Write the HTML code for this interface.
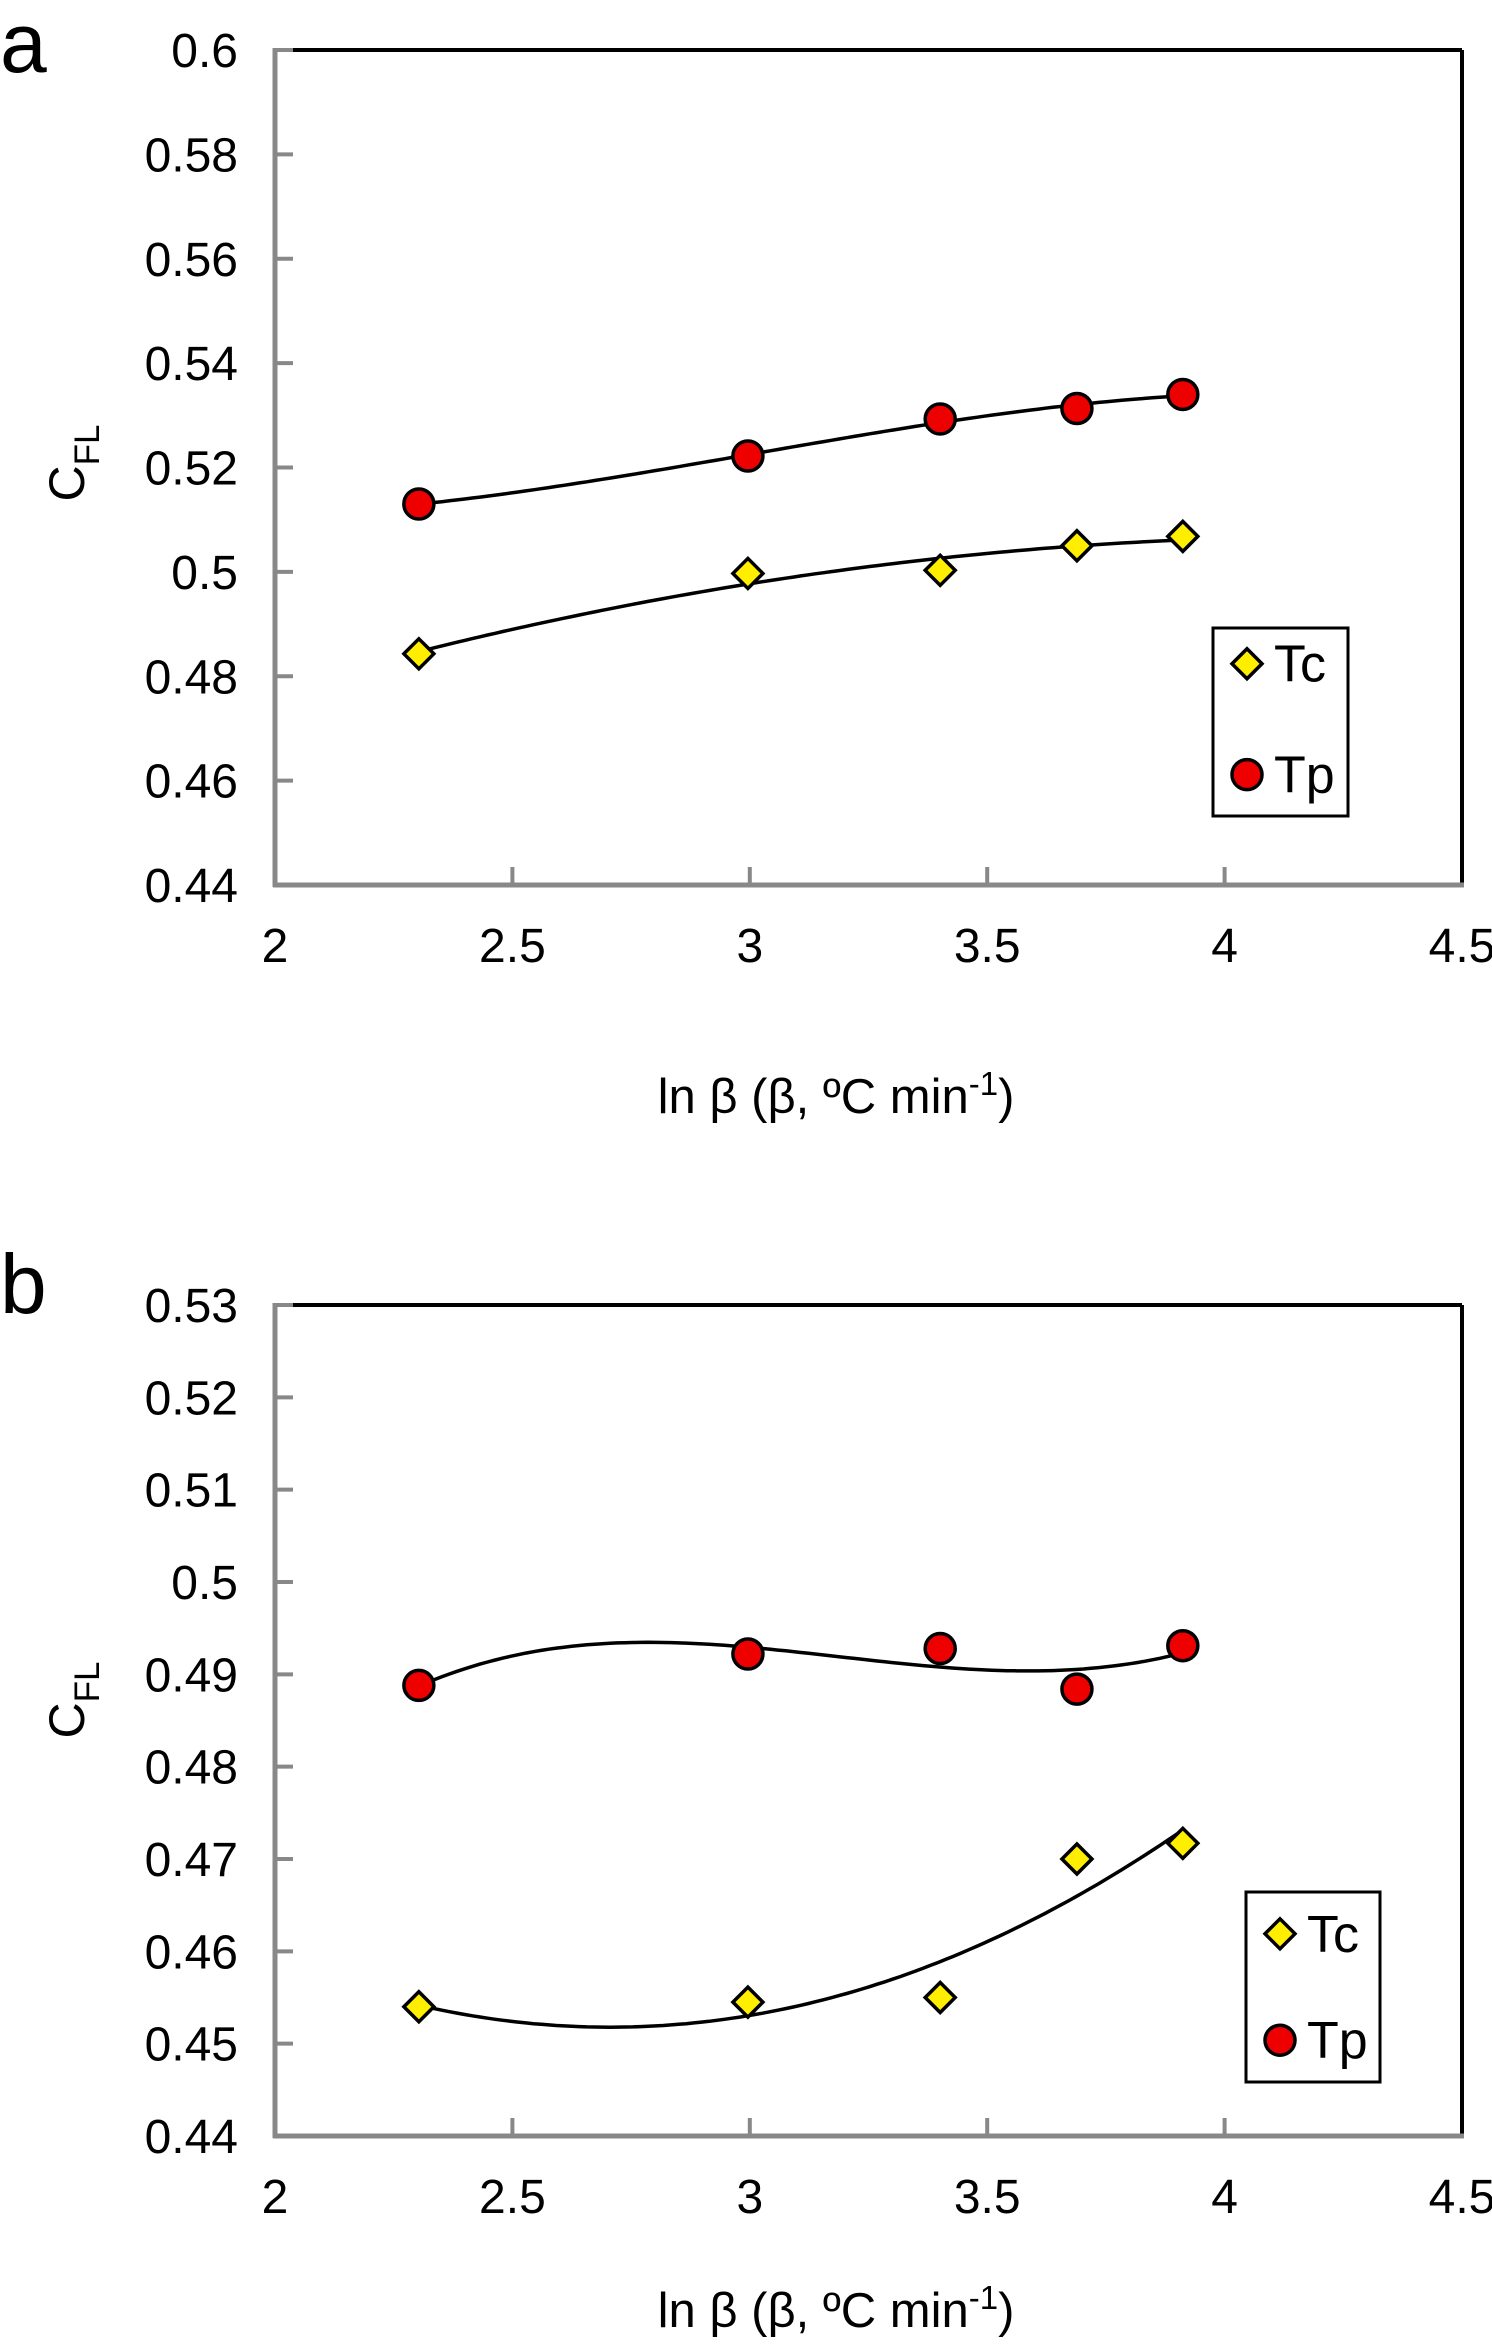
<!DOCTYPE html>
<html><head><meta charset="utf-8">
<style>
html,body{margin:0;padding:0;background:#fff;}
svg{display:block;font-family:"Liberation Sans",Arial,sans-serif;}
</style></head>
<body>
<svg id="fig" width="1492" height="2345" viewBox="0 0 1492 2345" xmlns="http://www.w3.org/2000/svg"></svg>
<script>
const xCats = [2.303, 2.996, 3.401, 3.689, 3.912];
const xTicks = [2, 2.5, 3, 3.5, 4, 4.5];
const xTickLabels = ["2","2.5","3","3.5","4","4.5"];
const aTc = [0.4843, 0.4997, 0.5003, 0.5050, 0.5068];
const aTp = [0.5130, 0.5222, 0.5293, 0.5313, 0.5340];
const aYTicks = [0.44,0.46,0.48,0.50,0.52,0.54,0.56,0.58,0.60];
const aYTickLabels = ["0.44","0.46","0.48","0.5","0.52","0.54","0.56","0.58","0.6"];
const bTc = [0.4540, 0.4545, 0.4550, 0.4700, 0.4717];
const bTp = [0.4888, 0.4922, 0.4928, 0.4884, 0.4931];
const bYTicks = [0.44,0.45,0.46,0.47,0.48,0.49,0.50,0.51,0.52,0.53];
const bYTickLabels = ["0.44","0.45","0.46","0.47","0.48","0.49","0.5","0.51","0.52","0.53"];

const NS="http://www.w3.org/2000/svg";
const svg=document.getElementById('fig');
function mk(tag,attrs,parent){const e=document.createElementNS(NS,tag);for(const k in attrs)e.setAttribute(k,attrs[k]);(parent||svg).appendChild(e);return e;}

function polyfit(xs,ys,deg){
  const n=deg+1;const A=[];for(let i=0;i<n;i++){A.push(new Array(n+1).fill(0));}
  for(let k=0;k<xs.length;k++){for(let i=0;i<n;i++){for(let j=0;j<n;j++)A[i][j]+=Math.pow(xs[k],i+j);A[i][n]+=ys[k]*Math.pow(xs[k],i);}}
  for(let i=0;i<n;i++){let p=i;for(let r=i+1;r<n;r++)if(Math.abs(A[r][i])>Math.abs(A[p][i]))p=r;[A[i],A[p]]=[A[p],A[i]];
    for(let r=0;r<n;r++){if(r===i)continue;const f=A[r][i]/A[i][i];for(let c=i;c<=n;c++)A[r][c]-=f*A[i][c];}}
  return A.map((row,i)=>row[n]/row[i]);
}
function peval(c,x){let s=0;for(let i=0;i<c.length;i++)s+=c[i]*Math.pow(x,i);return s;}

function drawChart(cfg){
  const g=mk('g',{});
  
  
  const L=275,R=1462,T=cfg.top,B=cfg.bottom;
  const xs=v=>L+(v-2)/(4.5-2)*(R-L);
  const ys=v=>B-(v-cfg.ymin)/(cfg.ymax-cfg.ymin)*(B-T);
  const pl=mk('text',{x:0,y:cfg.letterY,'font-size':84,fill:'#000'},g);pl.textContent=cfg.letter;
  
  
  const top=mk('line',{x1:L,y1:T,x2:R,y2:T,stroke:'#000','stroke-width':4},g);
  
  
  const rt=mk('line',{x1:R,y1:T,x2:R,y2:B,stroke:'#000','stroke-width':4},g);
  
  
  const ya=mk('line',{x1:L,y1:T-2,x2:L,y2:B+2,stroke:'#888','stroke-width':5},g);
  
  
  const xa=mk('line',{x1:L-2,y1:B,x2:R+2,y2:B,stroke:'#888','stroke-width':5},g);
  
  
  cfg.yTicks.forEach((v,i)=>{
    const y=ys(v);
    const t=mk('line',{x1:L,y1:y,x2:L+18,y2:y,stroke:'#888','stroke-width':4},g);
    
    
    const lb=mk('text',{x:238,y:y+17,'font-size':48,'text-anchor':'end',fill:'#000'},g);
    lb.textContent=cfg.yLabels[i];
    
    
  });
  xTicks.forEach((v,i)=>{
    const x=xs(v);
    if(i>0&&i<xTicks.length-1){
      const t=mk('line',{x1:x,y1:B,x2:x,y2:B-18,stroke:'#888','stroke-width':4},g);
      
      
    }
    const lb=mk('text',{x:x,y:B+77,'font-size':48,'text-anchor':'middle',fill:'#000'},g);
    lb.textContent=xTickLabels[i];
    
    
  });
  const xt=mk('text',{x:836,y:cfg.xTitleY,'font-size':49,'text-anchor':'middle',fill:'#000'},g);
  xt.innerHTML='ln β (β, ºC min<tspan dy="-18" font-size="33">-1</tspan><tspan dy="18">)</tspan>';
  
  
  const yt=mk('text',{x:0,y:0,'font-size':50,'text-anchor':'middle',fill:'#000',transform:`translate(84,${cfg.yTitleY}) rotate(-90)`},g);
  yt.innerHTML='C<tspan dy="15" font-size="35">FL</tspan>';
  
  
  [[cfg.tc,cfg.degTc,'fit-line-tc'],[cfg.tp,cfg.degTp,'fit-line-tp']].forEach(([ser,deg,nm])=>{
    const c=polyfit(xCats,ser,deg);let d='';
    const x0=xCats[0],x1=xCats[xCats.length-1];
    for(let k=0;k<=100;k++){const x=x0+(x1-x0)*k/100;d+=(k?'L':'M')+xs(x).toFixed(1)+','+ys(peval(c,x)).toFixed(1);}
    const p=mk('path',{d:d,fill:'none',stroke:'#000','stroke-width':3.5},g);
    
    
  });
  cfg.tc.forEach((v,i)=>{
    const x=xs(xCats[i]),y=ys(v);
    const m=mk('polygon',{points:`${x},${y-15} ${x+15},${y} ${x},${y+15} ${x-15},${y}`,fill:'#ffee00',stroke:'#000','stroke-width':3.5},g);
    
    
  });
  cfg.tp.forEach((v,i)=>{
    const x=xs(xCats[i]),y=ys(v);
    const m=mk('circle',{cx:x,cy:y,r:15,fill:'#ee0000',stroke:'#000','stroke-width':3.5},g);
    
    
  });
  const lg=cfg.legend;
  const lgG=mk('g',{},g);
  
  
  mk('rect',{x:lg.x,y:lg.y,width:lg.w,height:lg.h,fill:'#fff',stroke:'#000','stroke-width':3},lgG);
  const cy1=lg.y+lg.h*lg.f1, cy2=lg.y+lg.h*0.78, mx=lg.x+34;
  const e1=mk('g',{},lgG);
  
  
  mk('polygon',{points:`${mx},${cy1-15} ${mx+15},${cy1} ${mx},${cy1+15} ${mx-15},${cy1}`,fill:'#ffee00',stroke:'#000','stroke-width':3.5},e1);
  const t1=mk('text',{x:mx+27,y:cy1+18,'font-size':52,fill:'#000'},e1);t1.textContent='Tc';
  const e2=mk('g',{},lgG);
  
  
  mk('circle',{cx:mx,cy:cy2,r:15,fill:'#ee0000',stroke:'#000','stroke-width':3.5},e2);
  const t2=mk('text',{x:mx+27,y:cy2+18,'font-size':52,fill:'#000'},e2);t2.textContent='Tp';
}

drawChart({name:'chart-a',letter:'a',letterY:72,top:50,bottom:885,ymin:0.44,ymax:0.60,yTicks:aYTicks,yLabels:aYTickLabels,
  tc:aTc,tp:aTp,degTc:2,degTp:3,xTitleY:1113,yTitleY:463,legend:{x:1213,y:628,w:135,h:188,f1:0.19}});
drawChart({name:'chart-b',letter:'b',letterY:1313,top:1305,bottom:2136,ymin:0.44,ymax:0.53,yTicks:bYTicks,yLabels:bYTickLabels,
  tc:bTc,tp:bTp,degTc:2,degTp:3,xTitleY:2327,yTitleY:1700,legend:{x:1246,y:1892,w:134,h:190,f1:0.22}});
</script>
</body></html>
